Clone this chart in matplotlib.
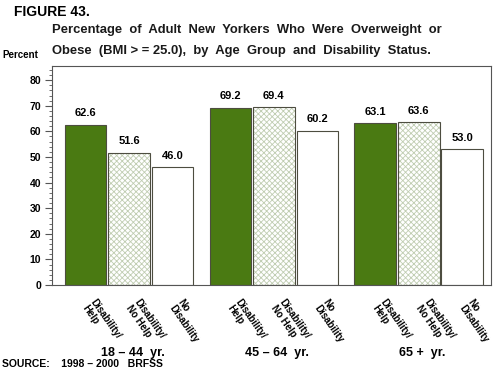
import matplotlib
matplotlib.use("Agg")
import matplotlib.pyplot as plt
from matplotlib.ticker import MultipleLocator
import numpy as np

groups = ["18 \u2013 44  yr.", "45 \u2013 64  yr.", "65 +  yr."]
categories = ["Disability/\nHelp", "Disability/\nNo Help", "No\nDisability"]
values = [
    [62.6, 51.6, 46.0],
    [69.2, 69.4, 60.2],
    [63.1, 63.6, 53.0],
]
yticks = [0, 10, 20, 30, 40, 50, 60, 70, 80]

plt.rcParams['font.family'] = ['Liberation Sans', 'DejaVu Sans']
plt.rcParams['font.weight'] = 'bold'
plt.rcParams['hatch.linewidth'] = 0.6

fig = plt.figure(figsize=(5.0, 3.69), dpi=100)
ax = fig.add_axes([0.104, 0.2276, 0.878, 0.5934])

green = '#4a7a12'
edge = '#4d4d40'
group_gap = 3.33
width = 0.96

for gi, gvals in enumerate(values):
    c = gi * group_gap
    for ci, v in enumerate(gvals):
        x = c + (ci - 1)
        if ci == 0:
            ax.bar(x, v, width, color=green, edgecolor=edge, linewidth=0.8, zorder=2)
        elif ci == 1:
            ax.bar(x, v, width, color='white', edgecolor='#c0cdb2', hatch='xxxxxx',
                   linewidth=0, zorder=2)
            ax.bar(x, v, width, color='none', edgecolor=edge, linewidth=0.8, zorder=3)
        else:
            ax.bar(x, v, width, color='white', edgecolor=edge, linewidth=0.8, zorder=2)
        ax.text(x, v + 2.5, f"{v:.1f}", ha='center', va='bottom', fontsize=8,
                fontweight='bold')
        ax.text(x + 0.26, -0.055, categories[ci], transform=ax.get_xaxis_transform(),
                rotation=-55, rotation_mode='anchor', ha='left', va='top',
                fontsize=7, fontweight='bold', linespacing=1.0)
    ax.text(c + 0.08, -0.31, groups[gi], transform=ax.get_xaxis_transform(),
            ha='center', va='center', fontsize=9, fontweight='bold')

ax.set_xlim(-1.77, 2 * group_gap + 1.66)
ax.set_ylim(0, 85.5)
ax.set_yticks(yticks)
ax.set_yticklabels([str(t) for t in yticks], fontsize=7.5, fontweight='bold')
ax.yaxis.set_minor_locator(MultipleLocator(2))
ax.tick_params(axis='y', which='major', length=5, width=0.8, pad=3, color='#555555')
ax.tick_params(axis='y', which='minor', length=2.5, width=0.6, color='#555555')
ax.set_xticks([])
for s in ax.spines.values():
    s.set_color('#555555')
    s.set_linewidth(0.8)

fig.text(0.028, 0.967, "FIGURE 43.", ha='left', va='center', fontsize=10, fontweight='bold')
fig.text(0.104, 0.919, "Percentage  of  Adult  New  Yorkers  Who  Were  Overweight  or",
         ha='left', va='center', fontsize=9.35, fontweight='bold', color='#1a1a1a')
fig.text(0.104, 0.862, "Obese  (BMI > = 25.0),  by  Age  Group  and  Disability  Status.",
         ha='left', va='center', fontsize=9.35, fontweight='bold', color='#1a1a1a')
fig.text(0.004, 0.851, "Percent", ha='left', va='center', fontsize=7, fontweight='bold')
fig.text(0.004, 0.014, "SOURCE:    1998 \u2013 2000   BRFSS", ha='left', va='center',
         fontsize=7.5, fontweight='bold')

fig.savefig("out.png", dpi=100)
